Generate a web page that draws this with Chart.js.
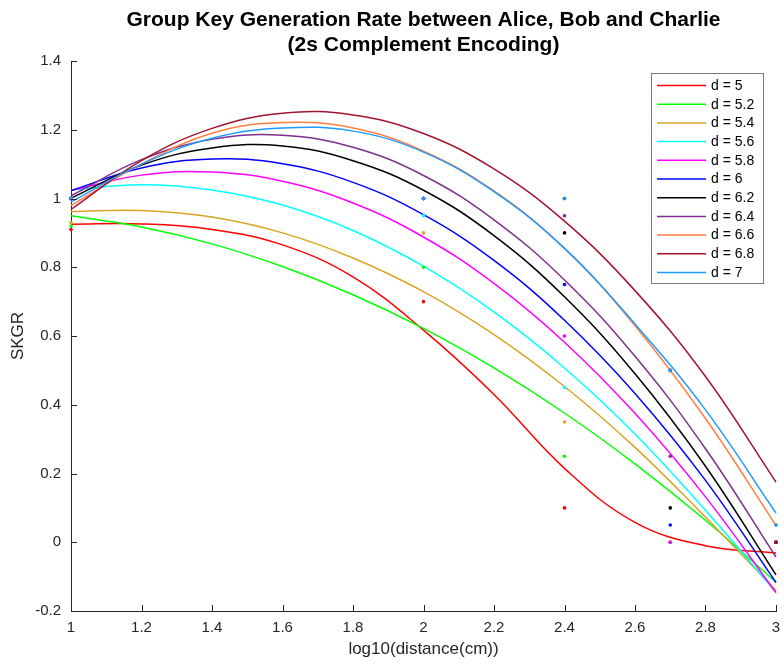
<!DOCTYPE html>
<html>
<head>
<meta charset="utf-8">
<title>SKGR</title>
<script src="https://cdn.jsdelivr.net/npm/chart.js@4.4.1/dist/chart.umd.min.js"></script>
<style>
html, body { margin: 0; padding: 0; background: #fff; }
#wrap { width: 784px; height: 668px; }
</style>
</head>
<body>
<div id="wrap"><canvas id="skgrChart" width="784" height="668"></canvas></div>
<script>
// ---- fitted curves, sampled along log10(distance) ----
const fitX = [1.0, 1.2, 1.4, 1.6, 1.8, 2.0, 2.2, 2.4, 2.6, 2.8, 3.0];

const fitD50 = [0.925, 0.926, 0.910, 0.865, 0.772, 0.617, 0.430, 0.215, 0.058, -0.010, -0.031];
const fitD52 = [0.950, 0.917, 0.868, 0.802, 0.720, 0.622, 0.507, 0.376, 0.228, 0.064, -0.116];
const fitD54 = [0.962, 0.965, 0.946, 0.900, 0.827, 0.729, 0.604, 0.453, 0.276, 0.073, -0.140];
const fitD56 = [1.025, 1.040, 1.025, 0.981, 0.907, 0.803, 0.670, 0.507, 0.315, 0.093, -0.145];
const fitD58 = [1.023, 1.068, 1.077, 1.050, 0.987, 0.888, 0.753, 0.582, 0.375, 0.132, -0.147];
const fitD60 = [1.023, 1.089, 1.115, 1.101, 1.047, 0.953, 0.820, 0.646, 0.433, 0.180, -0.117];
const fitD62 = [1.001, 1.097, 1.147, 1.153, 1.110, 1.024, 0.892, 0.714, 0.490, 0.221, -0.095];
const fitD64 = [1.008, 1.113, 1.172, 1.184, 1.149, 1.067, 0.938, 0.763, 0.541, 0.272, -0.043];
const fitD66 = [0.980, 1.100, 1.190, 1.221, 1.205, 1.138, 1.022, 0.855, 0.630, 0.360, 0.049];
const fitD68 = [0.968, 1.110, 1.204, 1.248, 1.243, 1.189, 1.086, 0.934, 0.732, 0.482, 0.175];
const fitD70 = [0.990, 1.100, 1.175, 1.205, 1.196, 1.135, 1.020, 0.855, 0.635, 0.385, 0.085];

// ---- measured SKGR values ----
const measX = [1, 2, 2.4, 2.7, 3];

const measD50 = [0.91, 0.70, 0.10, 0.00, 0.00];
const measD52 = [0.92, 0.80, 0.25, 0.00, 0.00];
const measD54 = [0.93, 0.90, 0.35, 0.00, 0.00];
const measD56 = [1.00, 0.95, 0.45, 0.00, 0.00];
const measD58 = [1.00, 1.00, 0.60, 0.00, 0.00];
const measD60 = [1.00, 1.00, 0.75, 0.05, 0.00];
const measD62 = [1.00, 1.00, 0.90, 0.10, 0.00];
const measD64 = [1.00, 1.00, 0.95, 0.25, 0.00];
const measD66 = [1.00, 1.00, 1.00, 0.50, 0.05];
const measD68 = [1.00, 1.00, 1.00, 0.50, 0.00];
const measD70 = [1.00, 1.00, 1.00, 0.50, 0.05];

const seriesNames = ["d = 5", "d = 5.2", "d = 5.4", "d = 5.6", "d = 5.8", "d = 6",
                     "d = 6.2", "d = 6.4", "d = 6.6", "d = 6.8", "d = 7"];

const xTickValues = [1, 1.2, 1.4, 1.6, 1.8, 2, 2.2, 2.4, 2.6, 2.8, 3];
const yTickValues = [-0.2, 0, 0.2, 0.4, 0.6, 0.8, 1, 1.2, 1.4];

const fits = [fitD50, fitD52, fitD54, fitD56, fitD58, fitD60, fitD62, fitD64, fitD66, fitD68, fitD70];
const meas = [measD50, measD52, measD54, measD56, measD58, measD60, measD62, measD64, measD66, measD68, measD70];

const colors = ["#ff0000", "#00ff00", "#d9a521", "#00ffff", "#ff00ff", "#0000ff",
                "#000000", "#7e2f8e", "#ff7f3f", "#a2142f", "#1e9bff"];

const FONT = "'Liberation Sans', Arial, Helvetica, sans-serif";
const AXIS_COLOR = "#262626";

// later series sit on top, dots above the curves
const datasets = [];
fits.forEach((ys, i) => {
  datasets.push({
    type: "line",
    label: seriesNames[i],
    data: fitX.map((x, k) => ({ x: x, y: ys[k] })),
    borderColor: colors[i],
    backgroundColor: colors[i],
    borderWidth: 1.5,
    pointRadius: 0,
    tension: 0.4,
    fill: false,
    clip: 4,
    order: 50 - i
  });
});
meas.forEach((ys, i) => {
  datasets.push({
    type: "scatter",
    label: "",
    isDots: true,
    data: measX.map((x, k) => ({ x: x, y: ys[k] })),
    borderColor: colors[i],
    backgroundColor: colors[i],
    pointRadius: 1.8,
    borderWidth: 0,
    showLine: false,
    clip: 4,
    order: 20 - i
  });
});

const fmt = v => String(Math.round(v * 10) / 10);

// title, inward tick marks and the boxed legend
const decorations = {
  id: "decorations",
  afterDraw(chart) {
    const ctx = chart.ctx;
    const area = chart.chartArea;
    const xs = chart.scales.x, ys = chart.scales.y;
    ctx.save();

    ctx.fillStyle = "#000";
    ctx.font = "bold 21px " + FONT;
    ctx.textAlign = "center";
    ctx.textBaseline = "middle";
    const cx = (area.left + area.right) / 2;
    ctx.fillText("Group Key Generation Rate between Alice, Bob and Charlie", cx, 20);
    ctx.fillText("(2s Complement Encoding)", cx, 45);

    ctx.strokeStyle = AXIS_COLOR;
    ctx.lineWidth = 1;
    ctx.beginPath();
    xTickValues.forEach(v => {
      const px = Math.round(xs.getPixelForValue(v)) + 0.5;
      ctx.moveTo(px, area.bottom);
      ctx.lineTo(px, area.bottom - 6);
    });
    yTickValues.forEach(v => {
      const py = Math.round(ys.getPixelForValue(v)) + 0.5;
      ctx.moveTo(area.left, py);
      ctx.lineTo(area.left + 6, py);
    });
    ctx.stroke();

    const bx = 651.5, by = 73.5, bw = 112, bh = 210;
    ctx.fillStyle = "#fff";
    ctx.fillRect(bx, by, bw, bh);
    ctx.strokeStyle = "#7a7a7a";
    ctx.strokeRect(bx, by, bw, bh);
    ctx.font = "14px " + FONT;
    ctx.textAlign = "left";
    ctx.textBaseline = "middle";
    chart.data.datasets.filter(d => !d.isDots).forEach((d, i) => {
      const y = 85.5 + i * 18.7;
      ctx.strokeStyle = d.borderColor;
      ctx.lineWidth = 1.5;
      ctx.beginPath();
      ctx.moveTo(657, y);
      ctx.lineTo(706, y);
      ctx.stroke();
      ctx.fillStyle = "#000";
      ctx.fillText(d.label, 711, y + 0.5);
    });
    ctx.restore();
  }
};

new Chart(document.getElementById("skgrChart"), {
  type: "line",
  data: { datasets: datasets },
  options: {
    responsive: false,
    devicePixelRatio: 1,
    animation: false,
    layout: { padding: { top: 61, right: 8, left: 0, bottom: 0 } },
    plugins: {
      legend: { display: false },
      title: { display: false },
      tooltip: { enabled: false }
    },
    scales: {
      x: {
        type: "linear",
        min: 1,
        max: 3,
        afterBuildTicks: s => { s.ticks = xTickValues.map(v => ({ value: v })); },
        afterFit: s => { s.height = 57; s.paddingLeft = 0; s.paddingRight = 0; },
        grid: { display: false, drawTicks: false },
        border: { display: true, color: AXIS_COLOR, width: 1 },
        ticks: { callback: v => fmt(v), color: "#262626", font: { family: FONT, size: 15 }, padding: 8, maxRotation: 0 },
        title: { display: true, text: "log10(distance(cm))", color: "#262626",
                 font: { family: FONT, size: 17 }, padding: { top: 0, bottom: 8 } }
      },
      y: {
        type: "linear",
        min: -0.2,
        max: 1.4,
        afterBuildTicks: s => { s.ticks = yTickValues.map(v => ({ value: v })); },
        afterFit: s => { s.width = 71; s.paddingTop = 0; s.paddingBottom = 0; },
        grid: { display: false, drawTicks: false },
        border: { display: true, color: AXIS_COLOR, width: 1 },
        ticks: { callback: v => fmt(v), color: "#262626", font: { family: FONT, size: 15 }, padding: 10 },
        title: { display: true, text: "SKGR", color: "#262626",
                 font: { family: FONT, size: 17 }, padding: { top: 8, bottom: 0 } }
      }
    }
  },
  plugins: [decorations]
});
</script>
</body>
</html>
